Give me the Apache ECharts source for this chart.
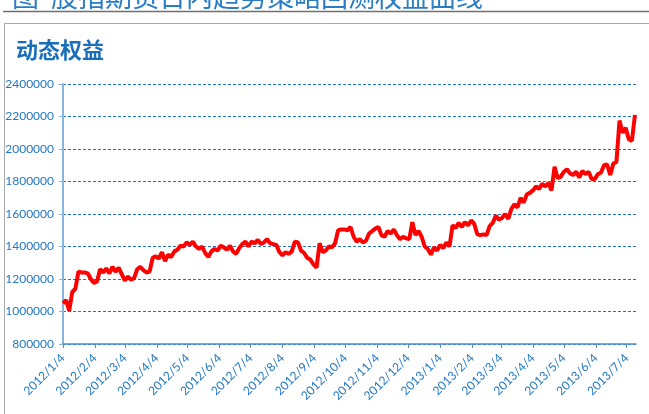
<!DOCTYPE html>
<html>
<head>
<meta charset="utf-8">
<script src="https://cdn.jsdelivr.net/npm/echarts@6/dist/echarts.min.js"></script>
<style>
  html, body { margin: 0; padding: 0; background: #fff; }
  #main { width: 649px; height: 414px; }
</style>
</head>
<body>
<div id="main"></div>
<script>
// equity curve, one reading every 3 calendar days from 2012/1/4
var startDate = '2012/1/4';
var stepDays = 3;
var equity = [
  1050000, 1070000, 1005000, 1120000, 1140000, 1245000, 1240000, 1240000, 1235000, 1200000,
  1175000, 1185000, 1260000, 1240000, 1265000, 1235000, 1275000, 1245000, 1270000, 1230000,
  1190000, 1215000, 1195000, 1205000, 1260000, 1275000, 1255000, 1240000, 1245000, 1330000,
  1340000, 1325000, 1365000, 1310000, 1350000, 1335000, 1370000, 1380000, 1405000, 1400000,
  1425000, 1410000, 1430000, 1400000, 1385000, 1400000, 1360000, 1335000, 1370000, 1385000,
  1375000, 1405000, 1395000, 1380000, 1405000, 1370000, 1355000, 1390000, 1415000, 1430000,
  1400000, 1430000, 1420000, 1440000, 1415000, 1425000, 1445000, 1420000, 1415000, 1410000,
  1365000, 1345000, 1365000, 1355000, 1370000, 1430000, 1425000, 1375000, 1360000, 1330000,
  1320000, 1290000, 1270000, 1420000, 1365000, 1375000, 1400000, 1395000, 1420000, 1500000,
  1505000, 1505000, 1500000, 1520000, 1460000, 1430000, 1445000, 1425000, 1435000, 1480000,
  1495000, 1510000, 1520000, 1470000, 1460000, 1495000, 1480000, 1505000, 1470000, 1445000,
  1460000, 1450000, 1445000, 1550000, 1470000, 1495000, 1460000, 1400000, 1385000, 1350000,
  1395000, 1375000, 1410000, 1390000, 1425000, 1400000, 1530000, 1515000, 1545000, 1520000,
  1550000, 1530000, 1560000, 1540000, 1475000, 1470000, 1475000, 1470000, 1525000, 1545000,
  1590000, 1565000, 1575000, 1600000, 1570000, 1630000, 1660000, 1640000, 1700000, 1670000,
  1720000, 1730000, 1745000, 1770000, 1755000, 1785000, 1770000, 1790000, 1745000, 1890000,
  1820000, 1830000, 1860000, 1875000, 1850000, 1840000, 1860000, 1825000, 1865000, 1845000,
  1860000, 1815000, 1815000, 1845000, 1855000, 1900000, 1905000, 1840000, 1910000, 1920000,
  2175000, 2100000, 2130000, 2060000, 2050000, 2210000
];
var tickLabels = [
  '2012/1/4', '2012/2/4', '2012/3/4', '2012/4/4', '2012/5/4', '2012/6/4', '2012/7/4',
  '2012/8/4', '2012/9/4', '2012/10/4', '2012/11/4', '2012/12/4', '2013/1/4', '2013/2/4',
  '2013/3/4', '2013/4/4', '2013/5/4', '2013/6/4', '2013/7/4'
];
var axisEnd = '2013/7/13';
var chartTitle = '动态权益';
var pageHeading = '图  股指期货日内趋势策略回测权益曲线';

function toTime(s) {
  var p = s.split('/');
  return new Date(+p[0], +p[1] - 1, +p[2]).getTime();
}

function fmtDate(v) {
  var d = new Date(v);
  return d.getFullYear() + '/' + (d.getMonth() + 1) + '/' + d.getDate();
}

var t0 = new Date(toTime(startDate));
var seriesData = [];
for (var i = 0; i < equity.length; i++) {
  var d = new Date(t0.getFullYear(), t0.getMonth(), t0.getDate() + i * stepDays);
  seriesData.push([d.getTime(), equity[i]]);
}
var tickValues = tickLabels.map(toTime);

var blue = '#2378c3';
var myChart = echarts.init(document.getElementById('main'), null, { renderer: 'canvas' });

var option = {
  backgroundColor: '#fff',
  animation: false,
  title: {
    text: chartTitle,
    left: 11,
    top: 34,
    textStyle: {
      color: '#1a6db8',
      fontSize: 22,
      fontWeight: 'bold',
      fontFamily: 'Noto Sans CJK SC'
    }
  },
  graphic: [
    {
      type: 'text',
      left: 12,
      top: -17,
      style: {
        text: pageHeading,
        fill: '#2a7cc4',
        font: '27px "Noto Sans CJK SC"'
      }
    },
    {
      type: 'line',
      shape: { x1: 3, y1: 11.5, x2: 649, y2: 11.5 },
      style: { stroke: '#6f6f6f', lineWidth: 1.5 }
    },
    {
      type: 'rect',
      shape: { x: 4.5, y: 23.5, width: 700, height: 500 },
      style: { fill: null, stroke: '#a8a8a8', lineWidth: 1 }
    }
  ],
  grid: {
    left: 63,
    right: 13,
    top: 84,
    bottom: 70,
    outerBoundsMode: 'none'
  },
  xAxis: {
    type: 'value',
    min: toTime(startDate),
    max: toTime(axisEnd),
    splitLine: { show: false },
    axisLine: { lineStyle: { color: '#4f90c9', width: 1.5 } },
    axisTick: {
      show: true,
      customValues: tickValues,
      length: 4,
      lineStyle: { color: '#4f90c9', width: 1 }
    },
    axisLabel: {
      customValues: tickValues,
      formatter: fmtDate,
      rotate: 45,
      margin: 12,
      color: blue,
      fontSize: 12,
      fontFamily: 'Lato'
    }
  },
  yAxis: {
    type: 'value',
    min: 800000,
    max: 2400000,
    interval: 200000,
    axisLine: { show: true, lineStyle: { color: '#86b6e0', width: 2 } },
    axisTick: { show: true, length: 4, lineStyle: { color: '#86b6e0' } },
    axisLabel: {
      margin: 9,
      color: blue,
      fontSize: 12,
      fontFamily: 'Lato',
      formatter: function (v) { return String(v); }
    },
    splitLine: {
      show: true,
      lineStyle: { color: '#1f74c4', width: 1, type: [3, 2] }
    }
  },
  series: [{
    name: chartTitle,
    type: 'line',
    data: seriesData,
    showSymbol: false,
    symbol: 'none',
    lineStyle: { color: '#ff0000', width: 4 },
    itemStyle: { color: '#ff0000' }
  }]
};

myChart.setOption(option);
window.addEventListener('resize', myChart.resize);
</script>
</body>
</html>
